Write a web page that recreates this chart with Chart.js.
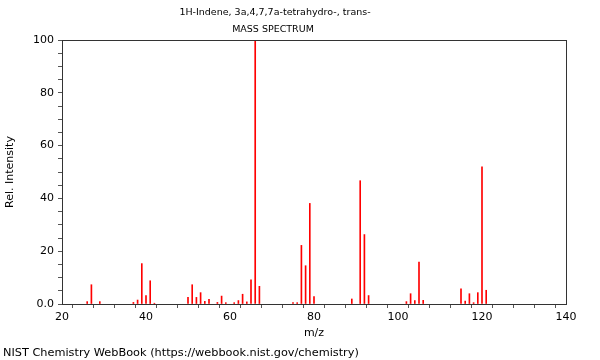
<!DOCTYPE html>
<html>
<head>
<meta charset="utf-8">
<script src="https://cdn.jsdelivr.net/npm/chart.js@4"></script>
<style>
  html, body { margin: 0; padding: 0; background: #ffffff; }
  #wrap { width: 600px; height: 360px; position: relative; }
</style>
</head>
<body>
<div id="wrap"><canvas id="spectrum"></canvas></div>
<script>
// m/z values and relative intensities
const massToCharge = [26, 27, 29, 37, 38, 39, 40, 41, 42, 50, 51, 52, 53, 54, 55, 57, 58, 59, 61, 62, 63, 64, 65, 66, 67,
  75, 76, 77, 78, 79, 80, 89, 91, 92, 93, 102, 103, 104, 105, 106, 115, 116, 117, 118, 119, 120, 121];
const relIntensity = [0.9, 7.3, 0.9, 0.6, 1.5, 15.3, 3.2, 8.8, 0.3, 2.5, 7.3, 2.5, 4.3, 1.0, 1.8, 0.6, 3.0, 0.5, 0.5, 1.3, 3.7, 0.8, 9.2, 100, 6.7,
  0.5, 0.5, 22.2, 14.5, 38.1, 2.8, 1.9, 46.7, 26.3, 3.2, 0.9, 3.9, 1.3, 15.9, 1.4, 5.7, 1.1, 3.9, 0.5, 4.3, 52.0, 5.2];
const xTickLabels = [20, 40, 60, 80, 100, 120, 140];
const yTickLabels = [0, 20, 40, 60, 80, 100];

const titleLines = ['1H-Indene, 3a,4,7,7a-tetrahydro-, trans-', 'MASS SPECTRUM'];
const xTitle = 'm/z';
const yTitle = 'Rel. Intensity';
const footer = 'NIST Chemistry WebBook (https://webbook.nist.gov/chemistry)';
const FONT = '"DejaVu Sans", sans-serif';

// frame, titles, axis names and footer drawn around the chart area
const decorations = {
  id: 'decorations',
  afterDraw(chart) {
    const { ctx, chartArea: a } = chart;
    ctx.save();
    ctx.strokeStyle = '#333';
    ctx.lineWidth = 1;
    ctx.strokeRect(a.left + 0.5, a.top + 0.5, a.right - a.left, a.bottom - a.top);
    ctx.fillStyle = '#000';
    ctx.textAlign = 'center';
    ctx.textBaseline = 'middle';
    ctx.font = '9.5px ' + FONT;
    ctx.fillText(titleLines[0], 275, 13);
    ctx.fillText(titleLines[1], 273, 30);
    ctx.font = '11px ' + FONT;
    ctx.fillText(xTitle, (a.left + a.right) / 2, 333);
    ctx.save();
    ctx.translate(10, (a.top + a.bottom) / 2);
    ctx.rotate(-Math.PI / 2);
    ctx.fillText(yTitle, 0, 0);
    ctx.restore();
    ctx.textAlign = 'left';
    ctx.font = '11.3px ' + FONT;
    ctx.fillText(footer, 3, 353);
    ctx.restore();
  }
};

new Chart(document.getElementById('spectrum'), {
  type: 'bar',
  data: {
    datasets: [{
      data: massToCharge.map((m, i) => ({ x: m, y: relIntensity[i] })),
      backgroundColor: '#ff0000',
      borderWidth: 0,
      barThickness: 1,
      grouped: false
    }]
  },
  options: {
    responsive: true,
    maintainAspectRatio: false,
    animation: false,
    layout: { padding: { left: 0, top: 40, right: 34, bottom: 0 } },
    plugins: { legend: { display: false }, tooltip: { enabled: false } },
    scales: {
      x: {
        type: 'linear',
        min: 20,
        max: 140,
        offset: false,
        afterFit: (s) => { s.height = 56; },
        afterBuildTicks: (s) => {
          const t = [];
          for (let v = 20; v <= 140; v += 5) t.push({ value: v });
          s.ticks = t;
        },
        ticks: {
          autoSkip: false,
          maxRotation: 0,
          color: '#000',
          font: { family: FONT, size: 11 },
          padding: 3,
          callback: (v) => xTickLabels.includes(v) ? String(v) : ''
        },
        grid: { drawOnChartArea: false, drawTicks: true, tickLength: 4, color: '#555' },
        border: { color: '#333' }
      },
      y: {
        min: 0,
        max: 100,
        afterFit: (s) => { s.width = 62; },
        afterBuildTicks: (s) => {
          const t = [];
          for (let v = 0; v <= 100; v += 5) t.push({ value: v });
          s.ticks = t;
        },
        ticks: {
          autoSkip: false,
          color: '#000',
          font: { family: FONT, size: 11 },
          padding: 4,
          callback: (v) => yTickLabels.includes(v) ? (v === 0 ? '0.0' : String(v)) : ''
        },
        grid: { drawOnChartArea: false, drawTicks: true, tickLength: 4, color: '#555' },
        border: { color: '#333' }
      }
    }
  },
  plugins: [decorations]
});
</script>
</body>
</html>
